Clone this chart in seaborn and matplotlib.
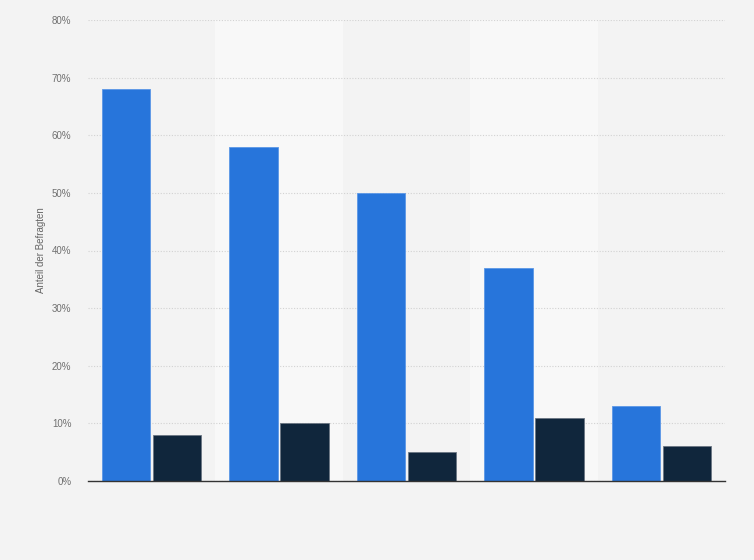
import matplotlib
matplotlib.use("Agg")
import matplotlib.pyplot as plt
from matplotlib.ticker import FuncFormatter
import seaborn as sns
import pandas as pd

categories = ["Kategorie 1", "Kategorie 2", "Kategorie 3", "Kategorie 4", "Kategorie 5"]
series_names = ["Serie A", "Serie B"]
series_a = [68, 58, 50, 37, 13]
series_b = [8, 10, 5, 11, 6]
y_ticks = [0, 10, 20, 30, 40, 50, 60, 70, 80]

df = pd.DataFrame({
    "Kategorie": categories * 2,
    "Serie": [series_names[0]] * len(categories) + [series_names[1]] * len(categories),
    "Wert": series_a + series_b,
})

sns.set_theme(style="white")
plt.rcParams["font.family"] = ["Liberation Sans", "DejaVu Sans"]

BG = "#f3f3f3"
BAND = "#f8f8f8"
fig = plt.figure(figsize=(7.54, 5.6), dpi=100, facecolor=BG)
ax = fig.add_axes([88/754, 79/560, (725-88)/754, (481-20)/560])
ax.set_facecolor(BG)

for i in range(len(categories)):
    if i % 2 == 1:
        ax.axvspan(i - 0.5, i + 0.5, facecolor=BAND, edgecolor="none", zorder=0, lw=0)

sns.barplot(data=df, x="Kategorie", y="Wert", hue="Serie",
            palette=["#2775db", "#10263c"], saturation=1, width=0.8, gap=0.05,
            ax=ax, legend=False, zorder=3)
for cont, ec in zip(ax.containers, ["#5b97e6", "#6b7683"]):
    for p in cont:
        p.set_edgecolor(ec)
        p.set_linewidth(0.6)

ax.set_xlim(-0.5, len(categories) - 0.5)
ax.set_ylim(0, 80)
ax.set_yticks(y_ticks)
ax.yaxis.set_major_formatter(FuncFormatter(lambda v, _: f"{int(v)}%"))
ax.grid(axis="y", color="#d2d2d2", linestyle=(0, (1, 1.5)), linewidth=0.8, zorder=1)
ax.set_axisbelow(True)
ax.set_xticks([])
ax.set_xlabel("")
ax.set_ylabel("Anteil der Befragten", fontsize=7, color="#666666")
ax.yaxis.set_label_coords((46 - 88) / 637, 0.5)
ax.tick_params(axis="y", labelsize=7, labelcolor="#707070", length=0, pad=12)
for s in ["top", "right", "left"]:
    ax.spines[s].set_visible(False)
ax.spines["bottom"].set_color("#333333")
ax.spines["bottom"].set_linewidth(1.0)
ax.spines["bottom"].set_zorder(5)

fig.savefig("out.png", dpi=100, facecolor=BG)
